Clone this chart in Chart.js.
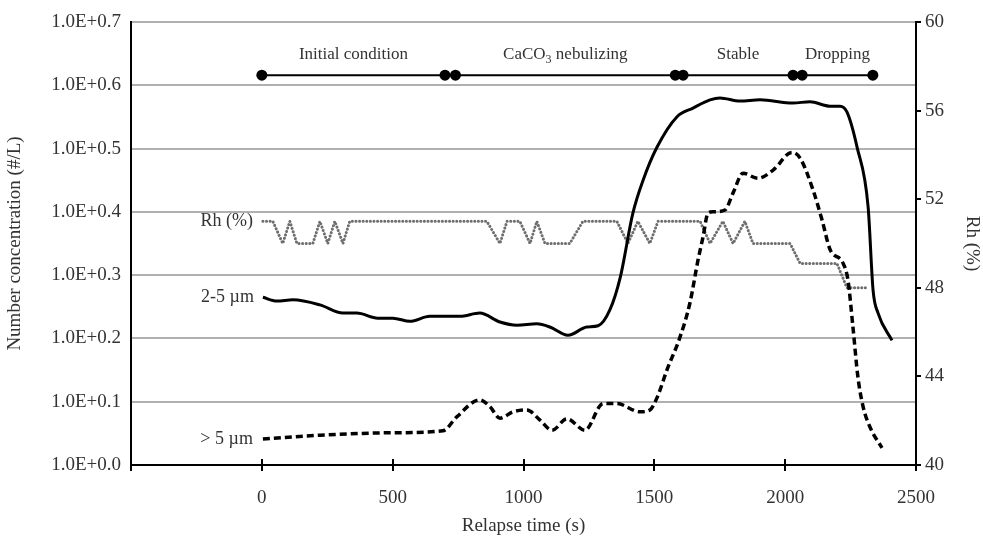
<!DOCTYPE html>
<html>
<head>
<meta charset="utf-8">
<script src="https://cdn.jsdelivr.net/npm/chart.js@4.4.1/dist/chart.umd.min.js"></script>
<style>
  html, body { margin: 0; padding: 0; background: #fff; }
  #wrap { width: 983px; height: 537px; }
</style>
</head>
<body>
<div id="wrap"><canvas id="chart" width="983" height="537"></canvas></div>
<script>
// time (s) for each series
const size25Time = [4, 57, 119, 222, 310, 363, 443, 501, 566, 642, 757, 833, 910, 975, 1051, 1101, 1170, 1242, 1285, 1330, 1370, 1418, 1457, 1510, 1586, 1648, 1713, 1751, 1827, 1904, 2030, 2095, 2172, 2210, 2236, 2275, 2317, 2336, 2355, 2408];
const size25Values = [0.265, 0.259, 0.261, 0.253, 0.240, 0.240, 0.232, 0.232, 0.227, 0.235, 0.235, 0.240, 0.226, 0.221, 0.223, 0.218, 0.205, 0.218, 0.220, 0.245, 0.297, 0.398, 0.450, 0.502, 0.550, 0.564, 0.577, 0.580, 0.575, 0.577, 0.572, 0.574, 0.567, 0.567, 0.558, 0.502, 0.408, 0.276, 0.240, 0.197];

const over5Time = [4, 222, 501, 692, 745, 833, 872, 910, 960, 1013, 1063, 1109, 1166, 1235, 1304, 1357, 1445, 1483, 1512, 1548, 1598, 1636, 1667, 1686, 1705, 1724, 1770, 1801, 1839, 1896, 1954, 2026, 2057, 2107, 2141, 2172, 2221, 2240, 2259, 2278, 2298, 2324, 2370];
const over5Values = [0.041, 0.047, 0.051, 0.054, 0.076, 0.103, 0.092, 0.074, 0.084, 0.087, 0.071, 0.055, 0.073, 0.055, 0.097, 0.097, 0.084, 0.087, 0.108, 0.150, 0.202, 0.256, 0.324, 0.360, 0.398, 0.400, 0.403, 0.430, 0.461, 0.453, 0.466, 0.494, 0.485, 0.434, 0.387, 0.340, 0.319, 0.292, 0.218, 0.139, 0.092, 0.060, 0.027];

const rhTime = [4, 42, 80, 107, 134, 195, 222, 252, 279, 310, 336, 860, 910, 937, 986, 1025, 1051, 1082, 1177, 1227, 1357, 1399, 1437, 1483, 1514, 1675, 1713, 1762, 1801, 1846, 1877, 2019, 2057, 2198, 2236, 2317];
const rhValues = [51, 51, 50, 51, 50, 50, 51, 50, 51, 50, 51, 51, 50, 51, 51, 50, 51, 50, 50, 51, 51, 50, 51, 50, 51, 51, 50, 51, 50, 51, 50, 50, 49.1, 49.1, 48, 48];

// phases (start / end of each)
const phaseTime = [0, 700, 740, 1580, 1610, 2030, 2065, 2335];
const phaseNames = ['Initial condition', 'CaCO3 nebulizing', 'Stable', 'Dropping'];

const xTicks = [0, 500, 1000, 1500, 2000, 2500];
const seriesNames = ['2-5 µm', '> 5 µm', 'Rh (%)'];

const PHASE_Y = 0.616;
const SERIF = '"Liberation Serif", "Times New Roman", serif';
const TXT = '#333';

Chart.defaults.font.family = SERIF;
Chart.defaults.color = TXT;

function pts(xs, ys) {
    return xs.map((x, i) => ({ x: x, y: ys[i] }));
}

// texte dans le graphique : phases, noms des séries, petits traits de l'axe x
const annotations = {
    id: 'annotations',
    afterDatasetsDraw(chart) {
        const ctx = chart.ctx;
        const sx = chart.scales.x, sy = chart.scales.y, srh = chart.scales.yRh;
        ctx.save();

        // ticks de l'axe x vers l'intérieur
        ctx.strokeStyle = '#000';
        ctx.lineWidth = 2;
        xTicks.forEach(t => {
            const px = Math.round(sx.getPixelForValue(t));
            ctx.beginPath();
            ctx.moveTo(px, sy.bottom);
            ctx.lineTo(px, sy.bottom - 6);
            ctx.stroke();
        });

        // noms des phases
        ctx.fillStyle = TXT;
        ctx.textBaseline = 'alphabetic';
        const ly = sy.getPixelForValue(PHASE_Y) - 16;
        phaseNames.forEach((name, i) => {
            const mid = (phaseTime[i * 2] + phaseTime[i * 2 + 1]) / 2;
            const cx = sx.getPixelForValue(mid);
            if (name.indexOf('CaCO3') === 0) {
                const a = 'CaCO', b = '3', c = ' nebulizing';
                ctx.font = '17px ' + SERIF;
                const wa = ctx.measureText(a).width, wc = ctx.measureText(c).width;
                ctx.font = '12px ' + SERIF;
                const wb = ctx.measureText(b).width;
                let x0 = cx - (wa + wb + wc) / 2;
                ctx.textAlign = 'left';
                ctx.font = '17px ' + SERIF;
                ctx.fillText(a, x0, ly);
                ctx.font = '12px ' + SERIF;
                ctx.fillText(b, x0 + wa, ly + 4);
                ctx.font = '17px ' + SERIF;
                ctx.fillText(c, x0 + wa + wb, ly);
            } else {
                ctx.font = '17px ' + SERIF;
                ctx.textAlign = 'center';
                ctx.fillText(name, cx, ly);
            }
        });

        // noms des séries, à gauche du premier point
        ctx.font = '18px ' + SERIF;
        ctx.textAlign = 'right';
        ctx.textBaseline = 'middle';
        ctx.fillText(seriesNames[0], sx.getPixelForValue(size25Time[0]) - 9, sy.getPixelForValue(size25Values[0]));
        ctx.fillText(seriesNames[1], sx.getPixelForValue(over5Time[0]) - 10, sy.getPixelForValue(over5Values[0]));
        ctx.fillText(seriesNames[2], sx.getPixelForValue(rhTime[0]) - 10, srh.getPixelForValue(rhValues[0]));
        ctx.restore();
    }
};

new Chart(document.getElementById('chart'), {
    type: 'line',
    data: {
        datasets: [
            {
                label: 'phases',
                data: phaseTime.map(t => ({ x: t, y: PHASE_Y })),
                borderColor: '#000',
                borderWidth: 2,
                pointRadius: 5.5,
                pointBackgroundColor: '#000',
                pointBorderWidth: 0,
                tension: 0,
                yAxisID: 'y'
            },
            {
                label: seriesNames[0],
                data: pts(size25Time, size25Values),
                borderColor: '#000',
                borderWidth: 3,
                pointRadius: 0,
                cubicInterpolationMode: 'monotone',
                yAxisID: 'y'
            },
            {
                label: seriesNames[1],
                data: pts(over5Time, over5Values),
                borderColor: '#000',
                borderWidth: 3.5,
                borderDash: [7, 4],
                pointRadius: 0,
                cubicInterpolationMode: 'monotone',
                yAxisID: 'y'
            },
            {
                label: seriesNames[2],
                data: pts(rhTime, rhValues),
                borderColor: '#6e6e6e',
                borderWidth: 3,
                borderDash: [0.1, 3.5],
                borderCapStyle: 'round',
                pointRadius: 0,
                tension: 0,
                yAxisID: 'yRh'
            }
        ]
    },
    options: {
        responsive: false,
        animation: false,
        devicePixelRatio: 1,
        layout: { padding: { top: 22, right: 0, bottom: 0, left: 0 } },
        plugins: {
            legend: { display: false },
            tooltip: { enabled: false }
        },
        scales: {
            x: {
                type: 'linear',
                min: -500,
                max: 2500,
                afterFit: s => { s.height = 72; },
                afterBuildTicks: s => { s.ticks = [-500].concat(xTicks).map(v => ({ value: v })); },
                ticks: {
                    font: { size: 19 },
                    color: TXT,
                    padding: 16,
                    maxRotation: 0,
                    callback: v => (v < 0 ? '' : v)
                },
                grid: { drawOnChartArea: false, drawTicks: true, tickLength: 6, color: '#000', lineWidth: 2 },
                border: { color: '#000', width: 2 },
                title: { display: true, text: 'Relapse time (s)', font: { size: 19 }, color: TXT, padding: { top: 0, bottom: 0 } }
            },
            y: {
                type: 'linear',
                position: 'left',
                min: 0,
                max: 0.7,
                afterFit: s => { s.width = 131; },
                ticks: {
                    stepSize: 0.1,
                    font: { size: 19 },
                    color: TXT,
                    padding: 10,
                    callback: v => '1.0E+' + v.toFixed(1)
                },
                grid: { color: '#b0b0b0', lineWidth: 2, drawTicks: false },
                border: { color: '#000', width: 2 },
                title: { display: true, text: 'Number concentration (#/L)', font: { size: 19 }, color: TXT, padding: { top: 4, bottom: 0 } }
            },
            yRh: {
                type: 'linear',
                position: 'right',
                min: 40,
                max: 60,
                afterFit: s => { s.width = 67; },
                ticks: { stepSize: 4, font: { size: 19 }, color: TXT, padding: 4 },
                grid: { drawOnChartArea: false, tickLength: 5, color: '#000', lineWidth: 2 },
                border: { color: '#000', width: 2 },
                title: { display: true, text: 'Rh (%)', font: { size: 19 }, color: TXT, padding: { top: 0, bottom: 4 } }
            }
        }
    },
    plugins: [annotations]
});
</script>
</body>
</html>
